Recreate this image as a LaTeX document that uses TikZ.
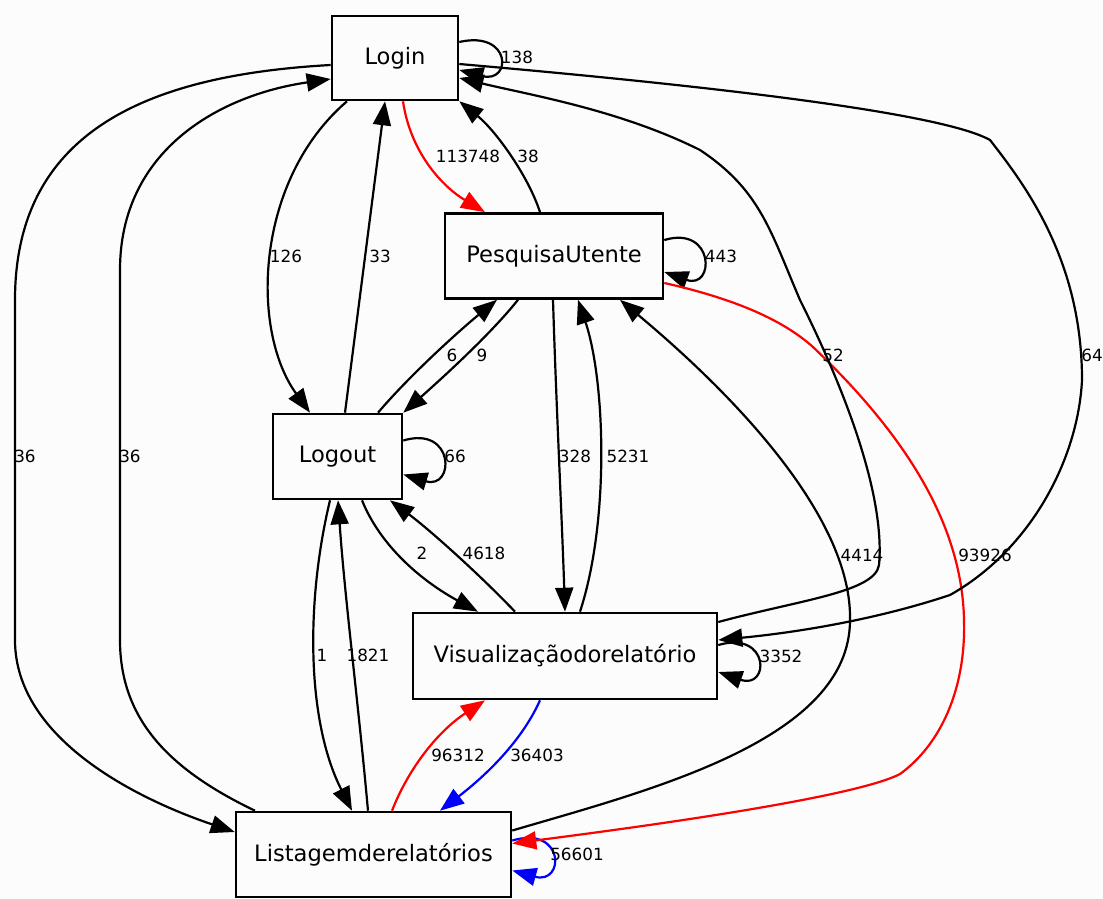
\documentclass[tikz,border=0pt]{standalone}
\usepackage{fontspec}
\setmainfont{DejaVu Sans}
\usetikzlibrary{arrows.meta}
\definecolor{paper}{RGB}{251,252,251}
\definecolor{hot}{RGB}{255,0,0}
\definecolor{cool}{RGB}{0,0,255}
\begin{document}
\begin{tikzpicture}[x=1pt,y=-1pt,
  state/.style={draw, line width=2.6pt, rectangle, inner sep=0pt, fill=paper,
                font=\fontsize{22.6}{26}\selectfont},
  edge/.style={line width=2.2pt, -{Triangle[length=24pt,width=18pt]}},
  lbl/.style={font=\fontsize{16.8}{19}\selectfont, inner sep=0pt}]
\fill[paper] (0,0) rectangle (1103,899);
\useasboundingbox (0,0) rectangle (1103,899);

% states
\node[state, minimum width=126pt, minimum height=84pt] (login) at (395,58) {Login};
\node[state, minimum width=218pt, minimum height=85pt] (pesq) at (554,256) {PesquisaUtente};
\node[state, minimum width=129pt, minimum height=85pt] (logout) at (337.5,456.5) {Logout};
\node[state, minimum width=304pt, minimum height=86pt] (vis) at (565,656) {Visualizaçãodorelatório};
\node[state, minimum width=275pt, minimum height=85pt] (list) at (373.5,854.5) {Listagemderelatórios};

% self loops
\draw[edge] ([yshift=16pt]login.east) .. controls (512,30) and (512,84) .. ([yshift=-12pt]login.east);
\draw[edge] ([yshift=16pt]pesq.east) .. controls (715,225) and (715,290) .. ([yshift=-16pt]pesq.east);
\draw[edge] ([yshift=16pt]logout.east) .. controls (455,425) and (455,490) .. ([yshift=-18pt]logout.east);
\draw[edge] ([yshift=11pt]vis.east) .. controls (770,630) and (770,690) .. ([yshift=-16pt]vis.east);
\draw[edge, cool] ([yshift=14pt]list.east) .. controls (565,825) and (565,885) .. ([yshift=-16pt]list.east);

% Login <-> PesquisaUtente
\draw[edge, hot] ([xshift=8pt]login.south) .. controls (410,150) and (440,185) .. ([xshift=-69pt]pesq.north);
\draw[edge] ([xshift=-14pt]pesq.north) .. controls (528,175) and (495,130) .. (login.south east);

% Login <-> Logout
\draw[edge] ([xshift=-48pt]login.south) .. controls (255,180) and (250,330) .. ([xshift=-27.5pt]logout.north);
\draw[edge] ([xshift=7.5pt]logout.north) -- ([xshift=-10pt]login.south);

% Logout <-> PesquisaUtente
\draw[edge] ([xshift=40.5pt]logout.north) .. controls (410,375) and (460,330) .. ([xshift=-57pt]pesq.south);
\draw[edge] ([xshift=-36pt]pesq.south) .. controls (490,335) and (440,380) .. (logout.north east);

% PesquisaUtente <-> Visualizacao
\draw[edge] ([xshift=-1pt]pesq.south) .. controls (556,400) and (562,520) .. (vis.north);
\draw[edge] ([xshift=15pt]vis.north) .. controls (610,520) and (605,380) .. ([xshift=24pt]pesq.south);

% Logout <-> Visualizacao
\draw[edge] ([xshift=24.5pt]logout.south) .. controls (380,545) and (420,580) .. ([xshift=-87pt]vis.north);
\draw[edge] ([xshift=-50pt]vis.north) .. controls (480,575) and (430,530) .. ([xshift=52.5pt]logout.south);

% Logout <-> Listagem
\draw[edge] ([xshift=-7.5pt]logout.south) .. controls (306,600) and (306,720) .. ([xshift=-21.5pt]list.north);
\draw[edge] ([xshift=-5.5pt]list.north) .. controls (358,700) and (345,600) .. ([xshift=0.5pt]logout.south);

% Listagem <-> Visualizacao
\draw[edge, hot] ([xshift=18.5pt]list.north) .. controls (410,765) and (440,730) .. ([xshift=-80pt]vis.south);
\draw[edge, cool] ([xshift=-25pt]vis.south) .. controls (520,745) and (480,780) .. ([xshift=66.5pt]list.north);

% Login <-> Listagem (left side)
\draw[edge] ([yshift=-7pt]login.west) .. controls (150,75) and (15,130) .. (15,300)
  -- (15,640) .. controls (15,740) and (140,800) .. ([yshift=22.5pt]list.west);
\draw[edge] ([xshift=-118.5pt]list.north) .. controls (170,770) and (120,720) .. (120,640)
  -- (120,270) .. controls (120,150) and (220,95) .. ([yshift=-21pt]login.west);

% PesquisaUtente <-> Listagem (right side)
\draw[edge, hot] ([yshift=-27pt]pesq.east) .. controls (740,300) and (785,322) .. (813,347)
  .. controls (900,430) and (962,520) .. (964,620)
  .. controls (966,690) and (940,745) .. (900,774)
  .. controls (850,800) and (600,832) .. ([yshift=11pt]list.east);
\draw[edge] ([yshift=24pt]list.east) .. controls (650,790) and (850,740) .. (850,620)
  .. controls (852,520) and (740,400) .. ([xshift=66pt]pesq.south);

% Visualizacao -> Login
\draw[edge] ([yshift=34pt]vis.east) .. controls (800,600) and (875,592) .. (879,565)
  .. controls (885,500) and (850,400) .. (800,300)
  .. controls (770,230) and (760,190) .. (700,150)
  .. controls (620,110) and (530,95) .. ([yshift=-20pt]login.east);

% Login -> Visualizacao
\draw[edge] ([yshift=-6pt]login.east) .. controls (700,85) and (940,112) .. (990,140)
  .. controls (1025,185) and (1082,260) .. (1082,380)
  .. controls (1078,460) and (1030,550) .. (950,595)
  .. controls (860,625) and (770,635) .. ([yshift=16pt]vis.east);

% edge counts
\node[lbl] (l138) at (517,57) {138};
\node[lbl] (l113748) at (468,156) {113748};
\node[lbl] (l38) at (528,156) {38};
\node[lbl] (l126) at (286,256) {126};
\node[lbl] (l33) at (380,256) {33};
\node[lbl] (l443) at (721,256) {443};
\node[lbl] (l52) at (833,355) {52};
\node[lbl] (l64) at (1092,355) {64};
\node[lbl] (l6) at (452,355) {6};
\node[lbl] (l9) at (482,355) {9};
\node[lbl] (l36a) at (25,456) {36};
\node[lbl] (l36b) at (130,456) {36};
\node[lbl] (l66) at (455,456) {66};
\node[lbl] (l328) at (575,456) {328};
\node[lbl] (l5231) at (628,456) {5231};
\node[lbl] (l2) at (422,553) {2};
\node[lbl] (l4618) at (484,553) {4618};
\node[lbl] (l4414) at (862,555) {4414};
\node[lbl] (l93926) at (985,555) {93926};
\node[lbl] (l1) at (322,655) {1};
\node[lbl] (l1821) at (368,655) {1821};
\node[lbl] (l3352) at (781,656) {3352};
\node[lbl] (l96312) at (458,755) {96312};
\node[lbl] (l36403) at (537,755) {36403};
\node[lbl] (l56601) at (577,854) {56601};
\end{tikzpicture}
\end{document}
